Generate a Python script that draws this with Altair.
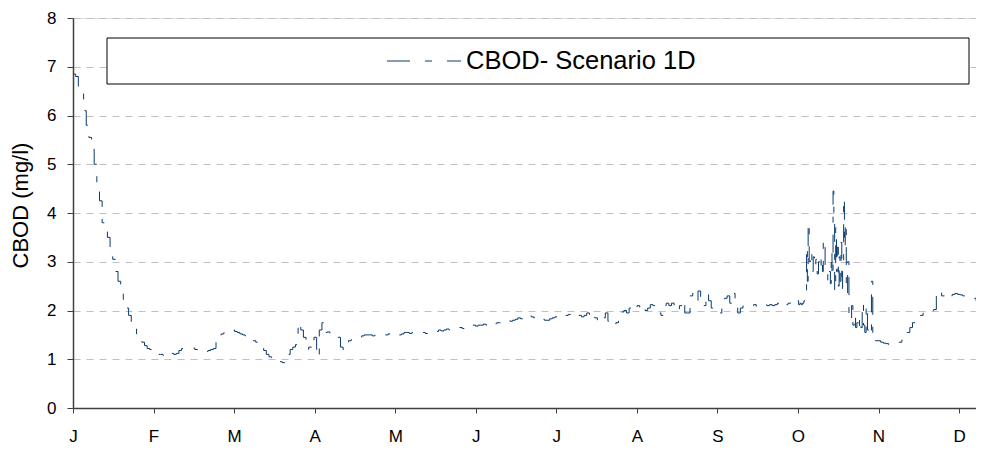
import altair as alt
import pandas as pd

# ---- data ----
MONTH_LABELS = ["J", "F", "M", "A", "M", "J", "J", "A", "S", "O", "N", "D"]
SERIES_NAME = "CBOD- Scenario 1D"
Y_TITLE = "CBOD (mg/l)"

# daily values, days 0..273
cbod_jan_sep = [
    6.85, 6.8, 6.6, 6.45, 6.1, 5.8, 5.55, 5.4, 5.0, 4.6,
    4.25, 3.8, 3.65, 3.5, 3.3, 3.05, 2.8, 2.6, 2.4, 2.2,
    2.05, 1.9, 1.75, 1.62, 1.52, 1.42, 1.35, 1.28, 1.22, 1.2,
    1.15, 1.12, 1.1, 1.1, 1.08, 1.1, 1.08, 1.12, 1.1, 1.12,
    1.18, 1.22, 1.23, 1.23, 1.22, 1.23, 1.2, 1.18, 1.15, 1.15,
    1.16, 1.18, 1.2, 1.22, 1.35, 1.5, 1.52, 1.55, 1.57, 1.6,
    1.6, 1.57, 1.55, 1.52, 1.5, 1.48, 1.45, 1.42, 1.38, 1.35,
    1.3, 1.25, 1.18, 1.1, 1.05, 1.03, 1.0, 0.97, 0.95, 0.93,
    0.98, 1.1, 1.2, 1.25, 1.3, 1.75, 1.6, 1.45, 1.2, 1.25,
    1.22, 1.45, 1.05, 1.6, 1.75, 1.55, 1.56, 1.52, 1.5, 1.48,
    1.45, 1.25, 1.2, 1.3, 1.38, 1.4, 1.42, 1.45, 1.45, 1.48,
    1.5, 1.5, 1.5, 1.48, 1.5, 1.52, 1.5, 1.5, 1.5, 1.52,
    1.5, 1.52, 1.5, 1.5, 1.52, 1.55, 1.55, 1.53, 1.55, 1.55,
    1.55, 1.57, 1.55, 1.53, 1.52, 1.55, 1.55, 1.57, 1.6, 1.58,
    1.6, 1.62, 1.6, 1.62, 1.63, 1.65, 1.65, 1.63, 1.65, 1.67,
    1.67, 1.7, 1.68, 1.7, 1.7, 1.72, 1.7, 1.72, 1.75, 1.73,
    1.75, 1.75, 1.77, 1.78, 1.8, 1.78, 1.8, 1.82, 1.85, 1.83,
    1.85, 1.87, 1.9, 1.87, 1.85, 1.83, 1.85, 1.82, 1.8, 1.8,
    1.83, 1.85, 1.87, 1.9, 1.9, 1.88, 1.9, 1.92, 1.9, 1.88,
    1.87, 1.9, 1.87, 1.9, 1.95, 1.92, 1.97, 1.85, 1.8, 1.77,
    1.85, 1.95, 1.78, 1.72, 1.7, 1.75, 1.9, 1.97, 2.0, 1.95,
    2.05, 2.0, 2.07, 2.1, 2.05, 2.1, 2.0, 2.05, 2.12, 2.1,
    2.05, 1.95, 1.9, 2.1, 2.15, 2.1, 2.15, 2.05, 2.0, 2.1,
    2.2, 1.95, 1.95, 2.3, 2.35, 2.2, 2.4, 2.25, 2.1, 2.35,
    2.2, 2.05, 1.95, 1.95, 1.95, 2.1, 2.25, 2.3, 2.15, 2.35,
    2.1, 1.95, 2.05, 2.1, 2.08, 2.1, 2.1, 2.12, 2.08, 2.1,
    2.1, 2.12, 2.1, 2.12, 2.1, 2.12, 2.15, 2.12, 2.15, 2.12,
    2.15, 2.18, 2.15, 2.2,
]

# October / early November, sub-daily detail
days_oct = [
    274, 274.5, 275, 275.5, 276, 276.5, 277, 277.3, 277.6, 278, 278.5, 279, 279.5,
    280, 280.5, 281, 281.5, 282, 282.5, 283, 283.3, 283.6, 284, 284.5, 285, 285.5,
    286, 286.3, 286.6, 287, 287.3, 287.6, 288, 288.3, 288.6, 289, 289.3, 289.6,
    290, 290.3, 290.6, 291, 291.3, 291.6, 292, 292.5, 293, 293.5, 294, 294.5,
    295, 295.5, 296, 296.5, 297, 297.5, 298, 298.5, 299, 299.5, 300, 300.5,
    301, 301.5, 302, 302.5,
]
cbod_oct = [
    2.12, 2.15, 2.12, 2.15, 2.2, 2.25, 3.3, 2.6, 3.8, 3.0, 3.2, 2.8, 3.1,
    2.9, 3.05, 2.75, 3.0, 2.85, 3.1, 2.8, 3.45, 3.3, 2.9, 2.85, 2.6, 2.8,
    2.55, 3.2, 2.7, 4.45, 3.9, 2.4, 3.7, 2.8, 3.3, 2.5, 3.1, 2.6,
    3.4, 2.45, 3.0, 4.3, 3.3, 3.8, 2.35, 3.0, 1.95, 1.8, 2.1, 1.7,
    1.9, 1.65, 1.75, 1.6, 1.85, 1.65, 2.15, 1.7, 1.55, 2.1, 1.6, 1.5,
    1.55, 2.6, 1.4, 1.42,
]

# daily values, days 303..344
cbod_nov_dec = [
    1.38, 1.38, 1.35, 1.33, 1.32, 1.3, 1.3,
    1.3, 1.32, 1.35, 1.4, 1.48, 1.55, 1.65, 1.75, 1.82, 1.87,
    1.9, 1.95, 1.97, 2.0, 2.0, 2.02, 2.3, 2.4, 2.3, 2.35,
    2.3, 2.3, 2.33, 2.35, 2.33, 2.32, 2.3, 2.3, 2.28, 2.25,
    2.25, 2.2, 2.15, 2.1, 2.07,
]

days_all = list(range(0, 274)) + days_oct + list(range(303, 345))
cbod_all = cbod_jan_sep + cbod_oct + cbod_nov_dec
assert len(days_all) == len(cbod_all)

df = pd.DataFrame({"day": days_all, "cbod": cbod_all})

MONTH_LEN = 365 / 12
month_ticks = [round(i * MONTH_LEN, 3) for i in range(12)]
label_expr = "[" + ",".join("'" + m + "'" for m in MONTH_LABELS) + "][round(datum.value / %f)]" % MONTH_LEN

LINE_COLOR = "#0B3A6E"
DASH = [18, 12, 6, 12]
FONT = "Liberation Sans"

line = alt.Chart(df).mark_line(
    interpolate="step-after", strokeWidth=1, color=LINE_COLOR, strokeDash=DASH
).encode(
    x=alt.X(
        "day:Q",
        scale=alt.Scale(domain=[0, 344], nice=False, zero=False),
        axis=alt.Axis(
            values=month_ticks, labelExpr=label_expr, title=None, grid=False,
            tickSize=5, labelPadding=15, labelFontSize=17, labelFont=FONT,
            labelColor="black", domainColor="#404040", tickColor="#404040",
            domainWidth=1.5, labelFlush=False, labelOverlap=False,
        ),
    ),
    y=alt.Y(
        "cbod:Q",
        scale=alt.Scale(domain=[0, 8], nice=False),
        axis=alt.Axis(
            values=list(range(0, 9)), title=Y_TITLE, grid=True,
            gridColor="#BFBFBF", gridDash=[7, 6], gridWidth=1,
            tickSize=6, labelPadding=11, labelFontSize=17, labelFont=FONT,
            labelColor="black", domainColor="#404040", tickColor="#404040",
            domainWidth=1.5, titleFont=FONT, titleFontSize=22,
            titleFontWeight="normal", titleColor="black", titlePadding=14,
            titleY=187,
        ),
    ),
)

one = alt.Data(values=[{}])
legend_box = alt.Chart(one).mark_rect(fill="white", stroke="black", strokeWidth=1).encode(
    x=alt.value(34), x2=alt.value(896), y=alt.value(20), y2=alt.value(66)
)
legend_symbol = alt.Chart(one).mark_rule(color=LINE_COLOR, strokeWidth=1, strokeDash=[23, 15, 7, 15]).encode(
    x=alt.value(314), x2=alt.value(388), y=alt.value(43)
)
legend_text = alt.Chart(one).mark_text(
    align="left", baseline="middle", fontSize=25.5, font=FONT, color="black"
).encode(x=alt.value(393), y=alt.value(43), text=alt.value(SERIES_NAME))

chart = alt.layer(legend_box, legend_symbol, legend_text, line).properties(
    width=911, height=390,
    padding={"left": 65, "top": 10, "right": -8, "bottom": 38},
    autosize=alt.AutoSizeParams(type="none"),
).configure_view(stroke="#A0A0A0", strokeWidth=1).configure(background="white")

chart.save("out.html", embed_options={"renderer": "svg", "actions": False})
